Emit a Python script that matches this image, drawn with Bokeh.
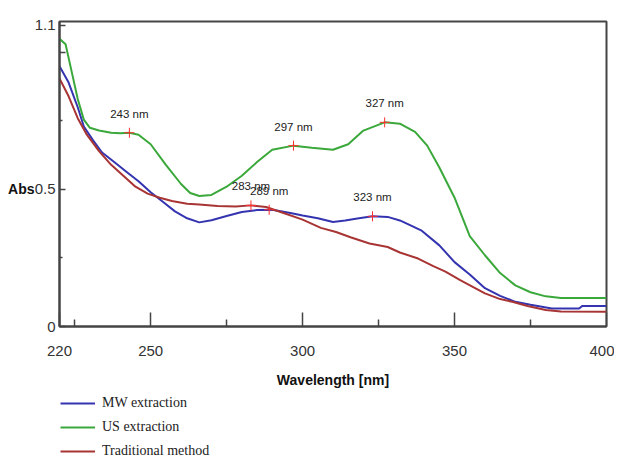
from bokeh.plotting import figure
from bokeh.models import Range1d, FixedTicker, Legend, LegendItem, ColumnDataSource, LinearAxis
from bokeh.layouts import column
from bokeh.core.properties import value
from bokeh.embed import file_html
from bokeh.resources import INLINE

# ---- data ----
us_wl = [220, 222, 224, 226, 228, 230, 233, 237, 240, 243, 246, 250, 255, 260, 263, 266, 270, 275, 280, 285, 290, 297, 303, 310, 315, 320, 327, 332, 337, 341, 345, 350, 355, 360, 365, 370, 375, 380, 385, 400]
us_abs = [1.05, 1.03, 0.93, 0.83, 0.755, 0.725, 0.715, 0.707, 0.705, 0.707, 0.70, 0.665, 0.59, 0.52, 0.487, 0.476, 0.48, 0.51, 0.55, 0.60, 0.645, 0.66, 0.652, 0.645, 0.665, 0.715, 0.745, 0.74, 0.71, 0.66, 0.58, 0.47, 0.33, 0.26, 0.195, 0.15, 0.125, 0.11, 0.104, 0.104]

mw_wl = [220, 223, 226, 228, 231, 234, 238, 242, 246, 250, 254, 258, 262, 266, 270, 275, 280, 285, 290, 296, 300, 305, 310, 314, 318, 323, 328, 332, 335, 339, 345, 350, 355, 360, 365, 370, 375, 382, 391, 392, 400]
mw_abs = [0.95, 0.89, 0.80, 0.73, 0.68, 0.635, 0.60, 0.565, 0.53, 0.49, 0.455, 0.42, 0.395, 0.38, 0.388, 0.403, 0.418, 0.425, 0.426, 0.414, 0.405, 0.395, 0.381, 0.387, 0.394, 0.402, 0.40, 0.387, 0.372, 0.351, 0.296, 0.235, 0.19, 0.14, 0.112, 0.09, 0.079, 0.066, 0.066, 0.075, 0.075]

tr_wl = [220, 223, 226, 229, 233, 237, 241, 245, 249, 253, 257, 262, 266, 272, 278, 283, 288, 293, 300, 306, 311, 316, 322, 328, 332, 338, 343, 347, 352, 356, 360, 365, 369, 374, 380, 385, 400]
tr_abs = [0.905, 0.84, 0.76, 0.70, 0.64, 0.59, 0.55, 0.51, 0.485, 0.47, 0.458, 0.448, 0.445, 0.44, 0.438, 0.442, 0.436, 0.417, 0.39, 0.36, 0.345, 0.325, 0.303, 0.29, 0.27, 0.248, 0.22, 0.20, 0.168, 0.145, 0.121, 0.10, 0.09, 0.075, 0.06, 0.055, 0.054]

peak_wl = [243, 297, 327, 283, 289, 323]
peak_abs = [0.707, 0.66, 0.745, 0.442, 0.426, 0.402]
peak_labels = ["243 nm", "297 nm", "327 nm", "283 nm", "289 nm", "323 nm"]

x_ticks = [220, 250, 300, 350, 400]
x_minor = [225, 275, 325, 375]
y_ticks = [0, 0.5, 1.0, 1.1]
y_minor = [0.25, 0.75]

series_names = ["MW extraction", "US extraction", "Traditional method"]
series_x = [mw_wl, us_wl, tr_wl]
series_y = [mw_abs, us_abs, tr_abs]
colors = ["#3434b0", "#3aa83a", "#a83434"]

SANS = "'Liberation Sans', Arial, sans-serif"

p = figure(width=614, height=394, output_backend="svg", toolbar_location=None,
           x_range=Range1d(220, 400), y_range=Range1d(0, 1.113),
           min_border_left=59, min_border_right=8, min_border_top=21, min_border_bottom=68)
p.xgrid.visible = False
p.ygrid.visible = False
p.outline_line_color = "#454545"
p.outline_line_width = 2
p.outline_line_alpha = 1

for xs, ys, c in zip(series_x, series_y, colors):
    p.line(xs, ys, line_color=c, line_width=2)

p.scatter(peak_wl, peak_abs, marker="cross", size=10, line_color="#ff3030", line_width=1)
src = ColumnDataSource(dict(x=peak_wl, y=peak_abs, t=peak_labels))
p.text(x="x", y="y", text="t", source=src, y_offset=-13, text_align="center",
       text_baseline="bottom", text_font=value(SANS), text_font_size="11.5px", text_color="#222222")

for ax in (p.xaxis[0], p.yaxis[0]):
    ax.axis_line_color = "#454545"
    ax.axis_line_width = 2
    ax.major_tick_line_color = "#454545"
    ax.minor_tick_line_color = "#454545"
    ax.major_tick_line_width = 1.5
    ax.minor_tick_line_width = 1.5
    ax.major_tick_out = 0
    ax.minor_tick_out = 0
    ax.major_label_text_font = SANS
    ax.major_label_text_font_size = "15px"
    ax.major_label_text_color = "#333333"

p.xaxis.ticker = FixedTicker(ticks=x_ticks, minor_ticks=x_minor)
p.xaxis.major_tick_in = 14
p.xaxis.minor_tick_in = 7
p.xaxis.major_label_standoff = 19
p.xaxis.axis_label = "Wavelength [nm]"
p.xaxis.axis_label_text_font = SANS
p.xaxis.axis_label_text_font_style = "bold"
p.xaxis.axis_label_text_font_size = "14px"
p.xaxis.axis_label_text_color = "#111111"
p.xaxis.axis_label_standoff = 13

p.yaxis.ticker = FixedTicker(ticks=y_ticks, minor_ticks=y_minor)
p.yaxis.major_tick_in = 6
p.yaxis.minor_tick_in = 3
p.yaxis.major_label_standoff = 4
p.yaxis.major_label_overrides = {1.0: "", 0: "0", 0.5: "0.5", 1.1: "1.1"}

# "Abs" title drawn as a label-only axis beside the value axis, level with 0.5
abs_axis = LinearAxis(ticker=FixedTicker(ticks=[0.5], minor_ticks=[]),
                      major_label_overrides={0.5: "Abs"},
                      axis_line_alpha=0, major_tick_line_alpha=0, minor_tick_line_alpha=0,
                      major_tick_in=0, major_tick_out=0, major_label_standoff=-3,
                      major_label_text_font=SANS, major_label_text_font_style="bold",
                      major_label_text_font_size="14px", major_label_text_color="#111111")
p.add_layout(abs_axis, "left")

# legend strip below the chart (its own series lines sit outside its empty view)
lg = figure(width=614, height=65, output_backend="svg", toolbar_location=None,
            x_range=Range1d(0, 1), y_range=Range1d(0, 1),
            min_border_left=0, min_border_right=0, min_border_top=0, min_border_bottom=0)
lg.axis.visible = False
lg.xgrid.visible = False
lg.ygrid.visible = False
lg.outline_line_alpha = 0
key_renderers = [lg.line(xs, ys, line_color=c, line_width=2) for xs, ys, c in zip(series_x, series_y, colors)]

legend = Legend(items=[LegendItem(label=n, renderers=[r]) for n, r in zip(series_names, key_renderers)],
                location=(1, 0), orientation="vertical", padding=0, margin=0, spacing=8,
                glyph_width=35, glyph_height=16, label_height=16, label_standoff=7,
                label_text_font="'Liberation Serif', 'Times New Roman', serif",
                label_text_font_size="14px", label_text_color="#222222",
                border_line_alpha=0, background_fill_alpha=0)
lg.add_layout(legend)

open("out.html", "w").write(file_html(column(p, lg), INLINE))
